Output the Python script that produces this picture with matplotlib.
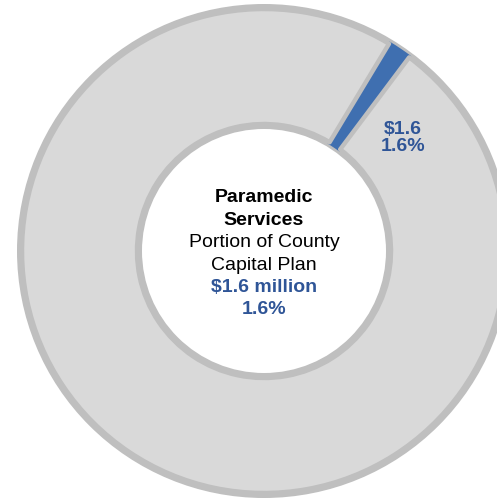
import matplotlib.pyplot as plt
from matplotlib.patches import Circle

# Данные
labels = ["Paramedic Services", "Rest of County Capital Plan"]
shares = [1.6, 98.4]
amount_label = "$1.6"
pct_label = "1.6%"
center_title = ["Paramedic", "Services"]
center_sub = ["Portion of County", "Capital Plan"]
center_value = ["$1.6 million", "1.6%"]

plt.rcParams['font.family'] = ['Liberation Sans', 'DejaVu Sans']

fig = plt.figure(figsize=(4.97, 5.02), dpi=100)
ax = fig.add_axes([0, 0, 1, 1])

cx, cy, r = 264, 250, 242
width = 115
grey_edge = '#bfbfbf'
blue_fill = '#3f6fb0'

# Контуры кольца под секторами
for rad in (r, r - width):
    ax.add_patch(Circle((cx, cy), rad, fill=False, edgecolor=grey_edge,
                        linewidth=7.2, zorder=0.5))

# Синий сектор снизу, серый поверх с кромкой
wedges, _ = ax.pie(shares, colors=[blue_fill, '#d9d9d9'], startangle=58.9,
                   counterclock=False, center=(cx, cy), radius=r,
                   wedgeprops=dict(width=width))
wedges[1].set_edgecolor(grey_edge)
wedges[1].set_linewidth(3.2)
wedges[1].set_joinstyle('round')
wedges[1].set_zorder(2)
wedges[0].set_edgecolor(blue_fill)
wedges[0].set_linewidth(3.2)
wedges[0].set_joinstyle('round')
wedges[0].set_zorder(1)

ax.set_xlim(0, 497)
ax.set_ylim(0, 502)
ax.set_aspect('equal')
ax.axis('off')

blue = '#2f5597'
ax.text(403, 364, amount_label + "\n" + pct_label, ha='center', va='center',
        fontsize=14, fontweight='bold', color=blue, linespacing=1.05)

lines = [(center_title[0], 'bold', 'black'), (center_title[1], 'bold', 'black'),
         (center_sub[0], 'normal', 'black'), (center_sub[1], 'normal', 'black'),
         (center_value[0], 'bold', blue), (center_value[1], 'bold', blue)]
y0 = 502 - 198
for i, (txt, w, c) in enumerate(lines):
    ax.text(cx, y0 - i * 22.4, txt, ha='center', va='center',
            fontsize=14, fontweight=w, color=c)

fig.savefig('out.png', dpi=100)
